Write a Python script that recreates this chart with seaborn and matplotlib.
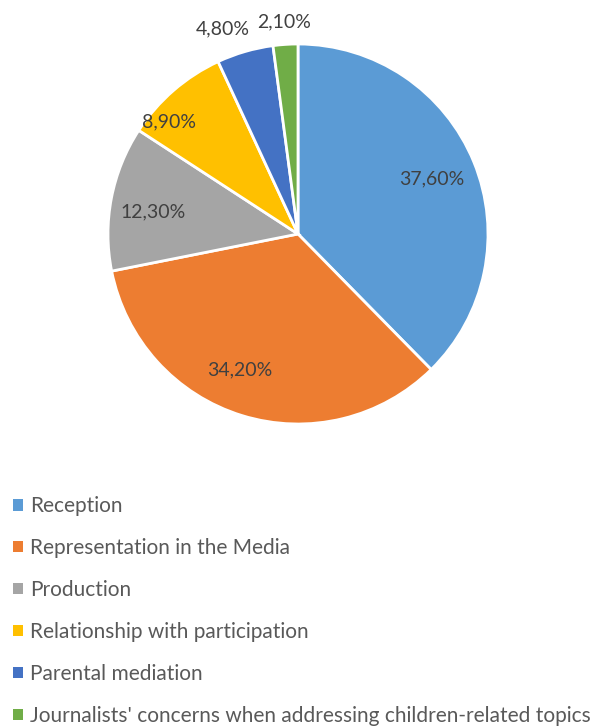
import numpy as np
import matplotlib
matplotlib.use("Agg")
import matplotlib.pyplot as plt
import seaborn as sns
from matplotlib.patches import Patch

categories = ["Reception", "Representation in the Media", "Production",
              "Relationship with participation", "Parental mediation",
              "Journalists' concerns when addressing children-related topics"]
values = [37.6, 34.2, 12.3, 8.9, 4.8, 2.1]
labels = ["37,60%", "34,20%", "12,30%", "8,90%", "4,80%", "2,10%"]
colors = ["#5B9BD5", "#ED7D31", "#A5A5A5", "#FFC000", "#4472C4", "#70AD47"]

# label placement (style): radial fraction and angular nudge in degrees
label_r = [0.76, 0.78, 0.77, 0.90, 1.15, 1.12]
label_da = [0, -6, 2.4, 8, 4, 0]

sns.set_theme(style="white")
plt.rcParams['font.family'] = ['Lato', 'DejaVu Sans']

W, H = 591, 727
fig = plt.figure(figsize=(W / 100, H / 100), dpi=100)
fig.patch.set_facecolor("white")

cx, cy, R = 298, 234, 190
ax = fig.add_axes([(cx - R) / W, (H - cy - R) / H, 2 * R / W, 2 * R / H])
palette = sns.color_palette(colors)
wedges, _ = ax.pie(values, colors=palette, startangle=90, counterclock=False,
                   radius=1, wedgeprops=dict(edgecolor="white", linewidth=2))
ax.set_xlim(-1, 1)
ax.set_ylim(-1, 1)
ax.set_aspect("equal")
ax.axis("off")

total = sum(values)
start = 90.0
for v, lab, rf, da in zip(values, labels, label_r, label_da):
    span = 360 * v / total
    mid = np.deg2rad(start - span / 2 + da)
    ax.text(rf * np.cos(mid), rf * np.sin(mid), lab, ha="center", va="center",
            fontsize=14, color="#404040", clip_on=False)
    start -= span

handles = [Patch(facecolor=c, edgecolor="none") for c in palette]
leg = fig.legend(handles, categories, loc="upper left",
                 bbox_to_anchor=(5 / W, 1 - 488 / H), frameon=False,
                 fontsize=15, labelcolor="#595959", handlelength=0.45,
                 handleheight=0.45, handletextpad=0.35, labelspacing=1.05,
                 borderaxespad=0)

fig.savefig("out.png", dpi=100, facecolor="white")
